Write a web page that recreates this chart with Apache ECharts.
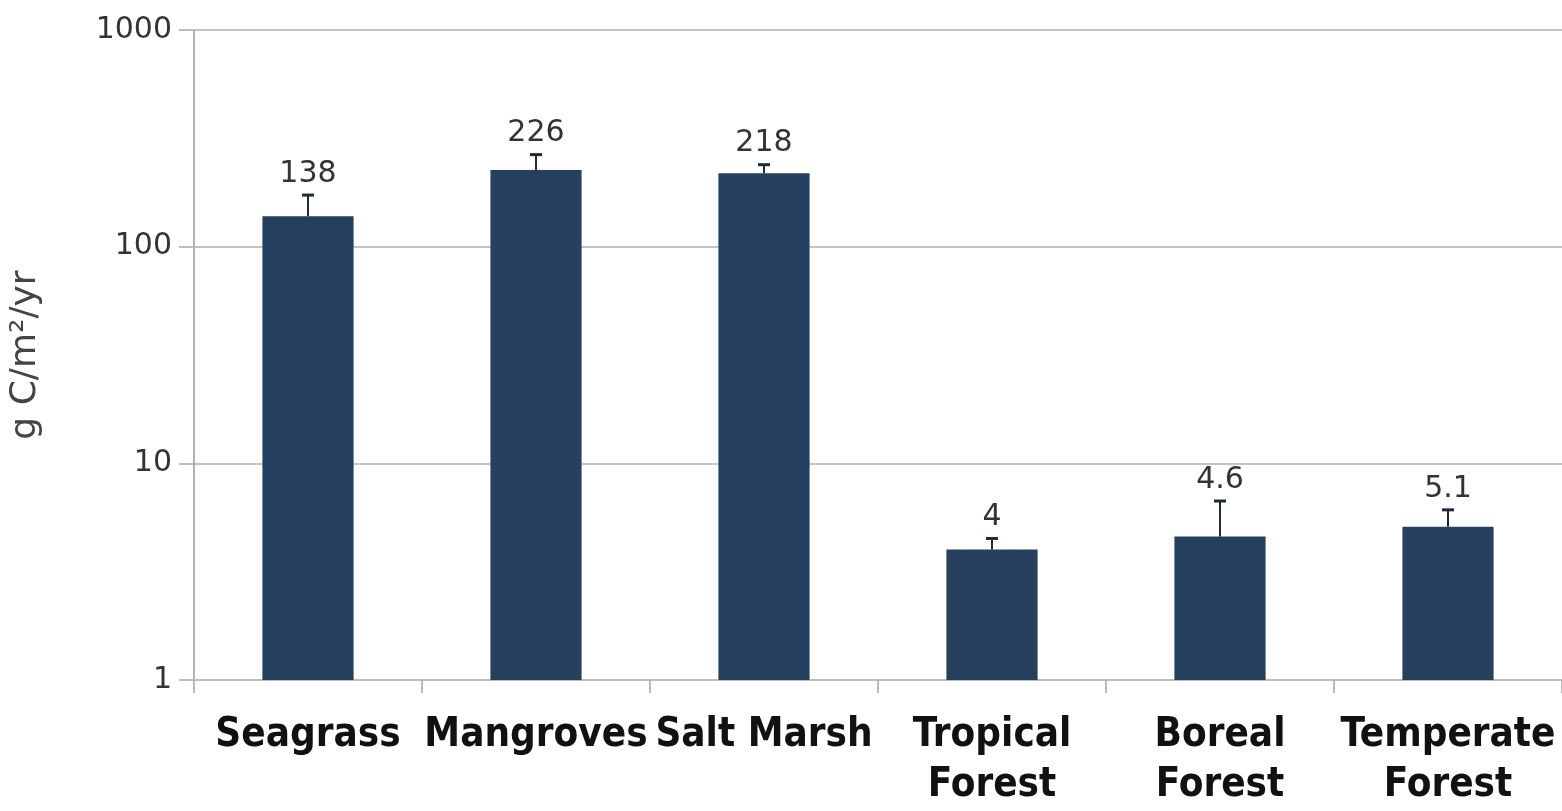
<!DOCTYPE html>
<html>
<head>
<meta charset="utf-8">
<script src="https://cdn.jsdelivr.net/npm/echarts@6/dist/echarts.min.js"></script>
<style>
  html, body { margin: 0; padding: 0; background: #ffffff; overflow: hidden; }
  #chart { width: 1562px; height: 811px; }
</style>
</head>
<body>
<div id="chart"></div>
<script>
// Carbon burial rate by ecosystem (g C/m²/yr), log scale
const categories = ['Seagrass', 'Mangroves', 'Salt Marsh', 'Tropical\nForest', 'Boreal\nForest', 'Temperate\nForest'];
const burialRates = [138, 226, 218, 4, 4.6, 5.1];
const errorHigh = [173, 266, 239, 4.5, 6.7, 6.1];
const yTicks = [1, 10, 100, 1000];

const BAR_COLOR = '#25405f';
const ERR_COLOR = '#1f2b3a';
const TEXT_COLOR = '#333333';

const chart = echarts.init(document.getElementById('chart'), null, { renderer: 'canvas', width: 1562, height: 811 });

const errorData = categories.map((c, i) => [i, burialRates[i], errorHigh[i]]);

chart.setOption({
  backgroundColor: '#ffffff',
  animation: false,
  grid: { left: 183, width: 1379, top: 30, height: 662, containLabel: false },
  xAxis: {
    type: 'category',
    data: categories,
    axisLine: { show: true, lineStyle: { color: '#bdbdbd', width: 2 } },
    axisTick: { show: true, alignWithLabel: false, length: 13, lineStyle: { color: '#a8a8a8', width: 1.5 } },
    axisLabel: {
      interval: 0,
      margin: 31,
      color: '#111111',
      fontFamily: 'DejaVu Sans Condensed, DejaVu Sans',
      fontWeight: 'bold',
      fontSize: 40,
      lineHeight: 50
    },
    splitLine: { show: false }
  },
  yAxis: {
    type: 'log',
    logBase: 10,
    min: yTicks[0],
    max: yTicks[yTicks.length - 1],
    name: 'g C/m²/yr',
    nameLocation: 'middle',
    nameRotate: 90,
    nameGap: 150,
    nameTextStyle: { color: '#444444', fontFamily: 'DejaVu Sans', fontSize: 36 },
    axisLine: { show: true, lineStyle: { color: '#9a9a9a', width: 1.5 } },
    axisTick: { show: true, length: 15, lineStyle: { color: '#bdbdbd', width: 2 } },
    axisLabel: {
      margin: 22,
      color: TEXT_COLOR,
      fontFamily: 'DejaVu Sans',
      fontSize: 30,
      formatter: v => String(Math.round(v))
    },
    splitLine: { show: true, lineStyle: { color: '#c4c4c4', width: 2 } }
  },
  series: [
    {
      type: 'bar',
      data: burialRates,
      barWidth: '40%',
      itemStyle: { color: BAR_COLOR },
      z: 2
    },
    {
      type: 'custom',
      data: errorData,
      z: 3,
      renderItem: (params, api) => {
        const i = api.value(0);
        const base = api.coord([i, api.value(1)]);
        const top = api.coord([i, api.value(2)]);
        const cap = 6;
        return {
          type: 'group',
          children: [
            {
              type: 'line',
              shape: { x1: base[0], y1: base[1], x2: top[0], y2: top[1] },
              style: { stroke: ERR_COLOR, lineWidth: 2 }
            },
            {
              type: 'line',
              shape: { x1: top[0] - cap, y1: top[1], x2: top[0] + cap, y2: top[1] },
              style: { stroke: ERR_COLOR, lineWidth: 3 }
            },
            {
              type: 'text',
              x: top[0],
              y: top[1] - 6,
              style: {
                text: String(burialRates[i]),
                align: 'center',
                verticalAlign: 'bottom',
                fontFamily: 'DejaVu Sans',
                fontSize: 30,
                fill: TEXT_COLOR
              }
            }
          ]
        };
      }
    }
  ]
});
</script>
</body>
</html>
